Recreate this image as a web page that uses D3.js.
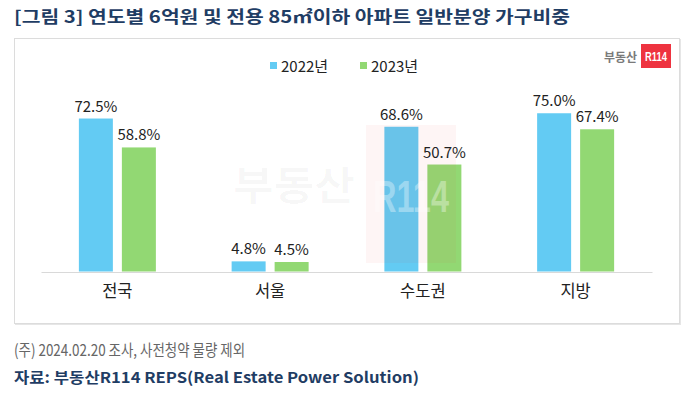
<!DOCTYPE html>
<html><head><meta charset="utf-8">
<script src="https://cdn.jsdelivr.net/npm/d3@7"></script>
<style>body{margin:0;background:#fff}svg{display:block}</style>
</head><body>
<svg id="c" width="692" height="395"></svg>
<script>
const categories = ["전국", "서울", "수도권", "지방"];
const seriesNames = ["2022년", "2023년"];
const values2022 = [72.5, 4.8, 68.6, 75.0];
const values2023 = [58.8, 4.5, 50.7, 67.4];
const colors = ["#63CBF3", "#92D873"];
const titleText = "[그림 3] 연도별 6억원 및 전용 85㎡이하 아파트 일반분양 가구비중";
const noteText = "(주) 2024.02.20 조사, 사전청약 물량 제외";
const sourceText = "자료: 부동산R114 REPS(Real Estate Power Solution)";

const svg = d3.select("#c");
const font = "'Noto Sans CJK KR', 'Noto Sans', sans-serif";
const navy = "#1F3D64";

// title
svg.append("text").attr("x", 14).attr("y", 23).attr("font-family", font)
  .attr("font-weight", "bold").attr("font-size", 17).attr("fill", navy)
  .attr("textLength", 556).attr("lengthAdjust", "spacingAndGlyphs").text(titleText);

// panel
svg.append("rect").attr("x", 14.5).attr("y", 38.5).attr("width", 665).attr("height", 285)
  .attr("fill", "#fff").attr("stroke", "#dcdcdc").attr("stroke-width", 1);
svg.append("line").attr("x1", 15).attr("x2", 681).attr("y1", 324.5).attr("y2", 324.5).attr("stroke", "#e6e6e6");
svg.append("line").attr("x1", 680.5).attr("x2", 680.5).attr("y1", 39).attr("y2", 325).attr("stroke", "#e6e6e6");

// logo
svg.append("text").attr("x", 637).attr("y", 62).attr("text-anchor", "end").attr("font-family", font)
  .attr("font-weight", "bold").attr("font-size", 12).attr("fill", "#7a7a7a").text("부동산");
svg.append("rect").attr("x", 641).attr("y", 44).attr("width", 30).attr("height", 24).attr("fill", "#EE3340");
svg.append("text").attr("x", 656).attr("y", 61).attr("text-anchor", "middle").attr("font-family", "'Liberation Sans', sans-serif")
  .attr("font-weight", "bold").attr("font-size", 13).attr("fill", "#fff").attr("textLength", 22).attr("lengthAdjust","spacingAndGlyphs").text("R114");

// scales
const x0 = d3.scaleBand().domain(categories).range([41, 652]);
const y = d3.scaleLinear().domain([0, 100]).range([271.5, 60.5]);
const barW = 34, gap = 9;
const data = categories.map((c, i) => ({ c, v: [values2022[i], values2023[i]] }));

// watermark (behind labels, drawn over bars)
const g = svg.append("g");
const wm = svg.append("g");
const lbl = svg.append("g");
data.forEach(d => {
  const cx = x0(d.c) + x0.bandwidth() / 2;
  d.v.forEach((v, j) => {
    const bx = cx - barW - gap / 2 + j * (barW + gap);
    g.append("rect").attr("x", bx).attr("y", y(v)).attr("width", barW)
      .attr("height", y(0) - y(v)).attr("fill", colors[j]);
    lbl.append("text").attr("x", bx + barW / 2).attr("y", y(v) - 7).attr("text-anchor", "middle")
      .attr("font-family", font).attr("font-size", 15).attr("fill", "#222").text(v.toFixed(1) + "%");
  });
});

wm.append("text").attr("x", 233).attr("y", 200).attr("font-family", font).attr("font-weight", "bold")
  .attr("font-size", 40).attr("fill", "#000").attr("fill-opacity", 0.03).attr("textLength", 122).attr("lengthAdjust","spacingAndGlyphs").text("부동산");
wm.append("rect").attr("x", 366).attr("y", 125).attr("width", 90).attr("height", 138).attr("fill", "#EE3340").attr("fill-opacity", 0.05);
wm.append("text").attr("x", 411).attr("y", 212).attr("text-anchor", "middle").attr("font-family", "'Liberation Sans', sans-serif")
  .attr("font-weight", "bold").attr("font-size", 44).attr("fill", "#fff").attr("fill-opacity", 0.35)
  .attr("textLength", 76).attr("lengthAdjust","spacingAndGlyphs").text("R114");

// axis
const ax = svg.append("g").attr("transform", "translate(0,272)").call(d3.axisBottom(x0).tickSize(0).tickPadding(13));
ax.select(".domain").attr("stroke", "#d9d9d9");
ax.selectAll("text").attr("font-family", font).attr("font-size", 16.5).attr("fill", "#222");

// legend
const leg = svg.append("g");
[270, 360].forEach((lx, j) => {
  leg.append("rect").attr("x", lx).attr("y", 62).attr("width", 7).attr("height", 7).attr("fill", colors[j]);
  leg.append("text").attr("x", lx + 11).attr("y", 72).attr("font-family", font).attr("font-size", 15)
    .attr("fill", "#222").text(seriesNames[j]);
});

// footnotes
svg.append("text").attr("x", 14).attr("y", 356).attr("font-family", font).attr("font-size", 16)
  .attr("fill", "#666").attr("textLength", 231).attr("lengthAdjust","spacingAndGlyphs").text(noteText);
svg.append("text").attr("x", 14).attr("y", 383).attr("font-family", font).attr("font-weight", "bold")
  .attr("font-size", 15).attr("fill", navy).attr("textLength", 405).attr("lengthAdjust","spacingAndGlyphs").text(sourceText);
</script>
</body></html>
